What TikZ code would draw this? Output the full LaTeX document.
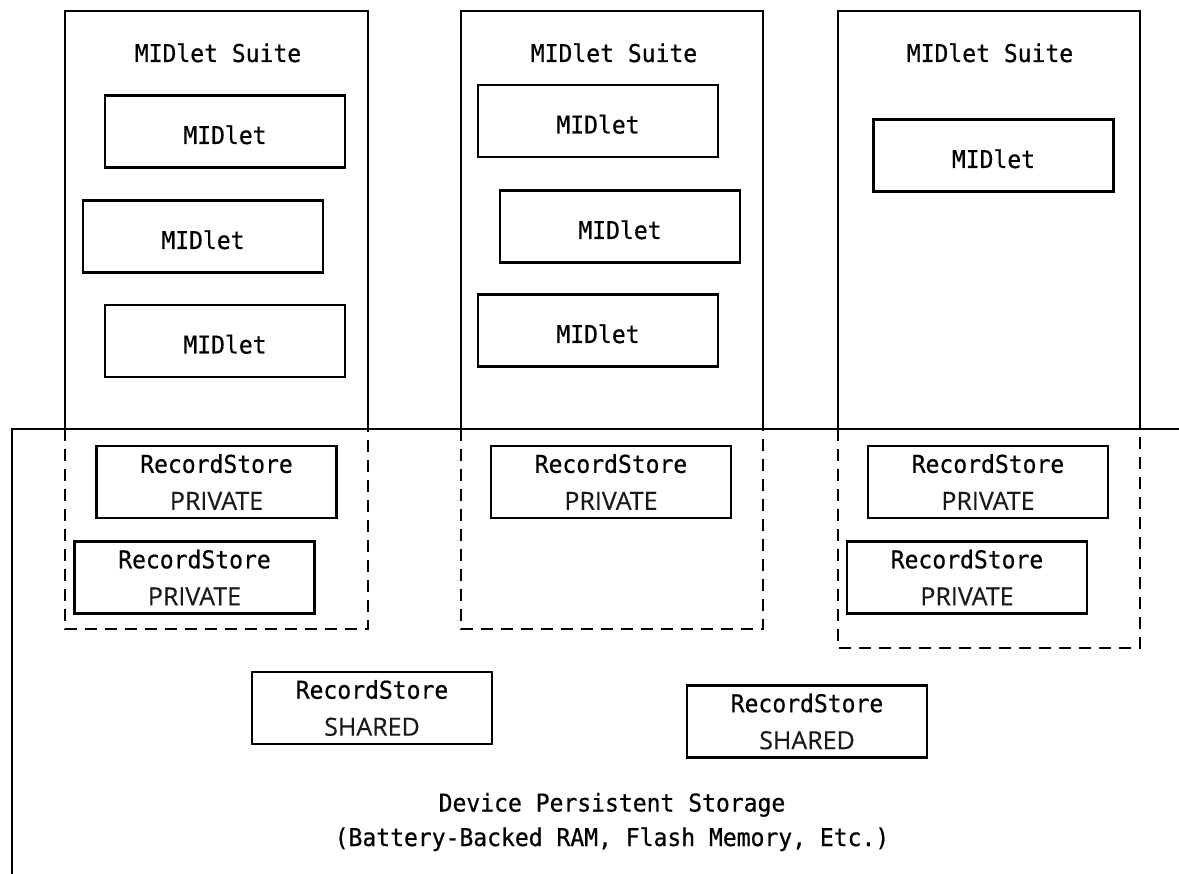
\documentclass[tikz,border=0pt]{standalone}
\usepackage{fontspec}
\newfontfamily\monof[FakeStretch=0.94,FakeBold=0.6]{DejaVu Sans Mono}
\newfontfamily\capsf[FakeBold=0.3]{Open Sans}
\begin{document}
\begin{tikzpicture}[x=1pt,y=-1pt,
  every node/.style={inner sep=0pt},
  outline/.style={line width=2.6pt},
  dashline/.style={line width=2.6pt, dash pattern=on 12pt off 8pt},
  midletbox/.style={draw, line width=2.6pt, minimum width=240pt, minimum height=72pt,
    font=\monof\fontsize{24.5}{36}\selectfont, text height=25pt, text depth=0pt},
  storebox/.style={draw, line width=2.6pt, minimum width=240pt, minimum height=72pt,
    align=center, font=\fontsize{24.5}{37}\selectfont},
  title/.style={anchor=base, font=\monof\fontsize{24.5}{28}\selectfont}
]
\useasboundingbox (0,0) rectangle (1179,874);

% device persistent storage region
\coordinate (devBL) at (12,874);
\coordinate (devTL) at (12,429);
\coordinate (devTR) at (1179,429);
\draw[line width=2.8pt] (devBL) -- (devTL) -- (devTR);

% suite outlines: solid above the storage line, dashed below it
\foreach \n/\xa/\xb/\yb in {1/65/368/629, 2/461/763/629, 3/838/1140/648}{
  \coordinate (s\n a) at (\xa,429);
  \coordinate (s\n b) at (\xa,11);
  \coordinate (s\n c) at (\xb,11);
  \coordinate (s\n d) at (\xb,429);
  \coordinate (s\n e) at (\xa,\yb);
  \coordinate (s\n f) at (\xb,\yb);
  \draw[outline] (s\n a) -- (s\n b) -- (s\n c) -- (s\n d);
  \draw[dashline] (s\n a) -- (s\n e) -- (s\n f) -- (s\n d);
}

% suite titles
\node[title] (t1) at (218,62) {MIDlet Suite};
\node[title] (t2) at (614,62) {MIDlet Suite};
\node[title] (t3) at (990,62) {MIDlet Suite};

% MIDlets
\node[midletbox] (m11) at (225,131.5) {MIDlet};
\node[midletbox] (m12) at (203,236.5) {MIDlet};
\node[midletbox] (m13) at (225,341) {MIDlet};
\node[midletbox] (m21) at (598,121) {MIDlet};
\node[midletbox] (m22) at (620,226.5) {MIDlet};
\node[midletbox] (m23) at (598,330.5) {MIDlet};
\node[midletbox] (m31) at (993.5,155.5) {MIDlet};

% record stores
\newcommand{\rstore}[1]{{\monof RecordStore}\\{\capsf\color{black!90}\fontsize{25}{37}\selectfont #1}}
\node[storebox] (r11) at (216.5,482) {\rstore{PRIVATE}};
\node[storebox] (r12) at (194.5,577.5) {\rstore{PRIVATE}};
\node[storebox] (r21) at (611,482) {\rstore{PRIVATE}};
\node[storebox] (r31) at (988,482) {\rstore{PRIVATE}};
\node[storebox] (r32) at (967,577.5) {\rstore{PRIVATE}};
\node[storebox] (sh1) at (372,708) {\rstore{SHARED}};
\node[storebox] (sh2) at (807,721.5) {\rstore{SHARED}};

% storage caption
\node[align=center, font=\monof\fontsize{24.5}{34.5}\selectfont] (dev) at (612,822)
  {Device Persistent Storage\\(Battery-Backed RAM, Flash Memory, Etc.)};
\end{tikzpicture}
\end{document}
